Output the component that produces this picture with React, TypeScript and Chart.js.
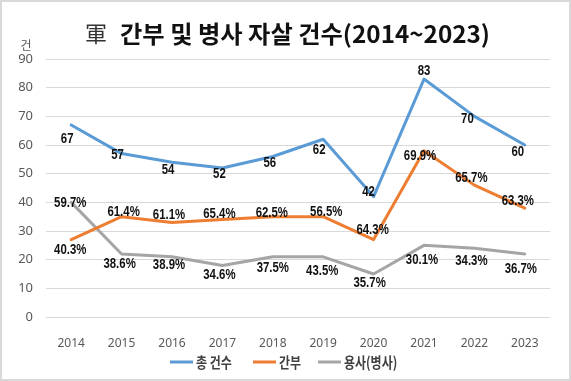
import React, { useEffect, useRef } from "react";
import { Chart, registerables } from "chart.js";

Chart.register(...registerables);

const years = ["2014", "2015", "2016", "2017", "2018", "2019", "2020", "2021", "2022", "2023"];
const totalCases = [67, 57, 54, 52, 56, 62, 42, 83, 70, 60];
const officerCases = [27, 35, 33, 34, 35, 35, 27, 58, 46, 38];
const soldierCases = [40, 22, 21, 18, 21, 21, 15, 25, 24, 22];
const totalLabels = totalCases.map(String);
const officerShareLabels = ["40.3%", "61.4%", "61.1%", "65.4%", "62.5%", "56.5%", "64.3%", "69.9%", "65.7%", "63.3%"];
const soldierShareLabels = ["59.7%", "38.6%", "38.9%", "34.6%", "37.5%", "43.5%", "35.7%", "30.1%", "34.3%", "36.7%"];
const seriesNames = ["총 건수", "간부", "용사(병사)"];
const colors = ["#5B9BD5", "#ED7D31", "#A5A5A5"];
const yMin = 0;
const yMax = 90;
const yStep = 10;
const titleMark = "軍";
const titleText = "간부 및 병사 자살 건수(2014~2023)";
const unitLabel = "건";

// label offsets (dx, dy) relative to each point, in px
const labelOffsets = [
  [[-4, 14], [-4, 1], [-4, 8], [-3, 6], [-3, 6], [-4, 11], [-5, -5], [0, -8], [-7, 3], [-7, 7]],
  [[-1, 10], [2, -5], [-3, -8], [-3, -6], [-1, -4], [3, -5], [-1, -10], [-4, 5], [-3, -7], [-7, -7]],
  [[-1, 1], [-2, 10], [-3, 8], [-3, 9], [0, 11], [-1, 14], [-4, 9], [-2, 15], [-3, 13], [-4, 15]],
];
const legendStarts = [170, 253, 318];

function drawScaled(ctx: CanvasRenderingContext2D, text: string, x: number, y: number, sx: number, align: CanvasTextAlign) {
  ctx.save();
  ctx.translate(x, y);
  ctx.scale(sx, 1);
  ctx.textAlign = align;
  ctx.fillText(text, 0, 0);
  ctx.restore();
}

const decorPlugin = {
  id: "decor",
  beforeDraw(chart: any) {
    const ctx = chart.ctx as CanvasRenderingContext2D;
    ctx.save();
    ctx.fillStyle = "#ffffff";
    ctx.fillRect(0, 0, chart.width, chart.height);
    ctx.restore();
  },
  afterDatasetsDraw(chart: any) {
    const ctx = chart.ctx as CanvasRenderingContext2D;
    const labelSets = [totalLabels, officerShareLabels, soldierShareLabels];
    ctx.save();
    ctx.fillStyle = "#111111";
    ctx.font = "bold 15px 'Liberation Sans', Arial, sans-serif";
    ctx.textBaseline = "middle";
    labelSets.forEach((labels, di) => {
      const meta = chart.getDatasetMeta(di);
      meta.data.forEach((pt: any, i: number) => {
        const [dx, dy] = labelOffsets[di][i];
        drawScaled(ctx, labels[i], pt.x + dx, pt.y + dy, 0.76, "center");
      });
    });
    ctx.restore();
  },
  afterDraw(chart: any) {
    const ctx = chart.ctx as CanvasRenderingContext2D;
    ctx.save();
    // frame
    ctx.strokeStyle = "#d9d9d9";
    ctx.lineWidth = 2;
    ctx.strokeRect(1, 1, chart.width - 2, chart.height - 2);

    // title
    ctx.fillStyle = "#111111";
    ctx.textBaseline = "middle";
    ctx.font = "bold 24px 'Noto Sans CJK KR', sans-serif";
    const w = ctx.measureText(titleText).width;
    const sx = 370 / w;
    drawScaled(ctx, titleText, 120, 34, sx, "left");
    ctx.font = "22px 'Noto Sans CJK KR', serif";
    ctx.fillStyle = "#333333";
    drawScaled(ctx, titleMark, 85, 34, 1, "left");

    // unit
    ctx.fillStyle = "#595959";
    ctx.font = "12px 'Noto Sans CJK KR', sans-serif";
    ctx.textAlign = "center";
    ctx.fillText(unitLabel, 26, 45);

    // legend
    const ly = 362;
    ctx.font = "bold 15px 'Noto Sans CJK KR', sans-serif";
    seriesNames.forEach((name, i) => {
      const x0 = legendStarts[i];
      ctx.strokeStyle = colors[i];
      ctx.lineWidth = 3;
      ctx.beginPath();
      ctx.moveTo(x0, ly);
      ctx.lineTo(x0 + 23, ly);
      ctx.stroke();
      ctx.fillStyle = "#404040";
      drawScaled(ctx, name, x0 + 26, ly, 0.8, "left");
    });
    ctx.restore();
  },
};

export default function App() {
  const ref = useRef<HTMLCanvasElement | null>(null);
  useEffect(() => {
    if (!ref.current) return;
    const chart = new Chart(ref.current, {
      type: "line",
      data: {
        labels: years,
        datasets: [totalCases, officerCases, soldierCases].map((d, i) => ({
          label: seriesNames[i],
          data: d,
          borderColor: colors[i],
          backgroundColor: colors[i],
          borderWidth: 3,
          pointRadius: 0,
          tension: 0,
          borderJoinStyle: "round" as const,
          borderCapStyle: "round" as const,
        })),
      },
      options: {
        animation: false,
        responsive: false,
        devicePixelRatio: 1,
        layout: { padding: { top: 59, right: 21, bottom: 34, left: 0 } },
        plugins: {
          legend: { display: false },
          title: { display: false },
          tooltip: { enabled: false },
        },
        scales: {
          x: {
            offset: true,
            grid: { display: false },
            border: { display: false },
            ticks: { color: "#595959", font: { family: "'Noto Sans', sans-serif", size: 12 }, padding: 11, maxRotation: 0 },
            afterFit: (s: any) => { s.height = 30; },
          },
          y: {
            min: yMin,
            max: yMax,
            ticks: { stepSize: yStep, color: "#595959", font: { family: "'Noto Sans', sans-serif", size: 13 }, padding: 13 },
            grid: { color: "#d9d9d9", drawTicks: false, lineWidth: 1 },
            border: { display: false },
            afterFit: (s: any) => { s.width = 46; },
          },
        },
      },
      plugins: [decorPlugin],
    } as any);
    return () => chart.destroy();
  }, []);
  return (
    <div style={{ position: "fixed", left: 0, top: 0, width: 571, height: 381 }}>
      <canvas ref={ref} width={571} height={381} style={{ display: "block", width: 571, height: 381 }} />
    </div>
  );
}
